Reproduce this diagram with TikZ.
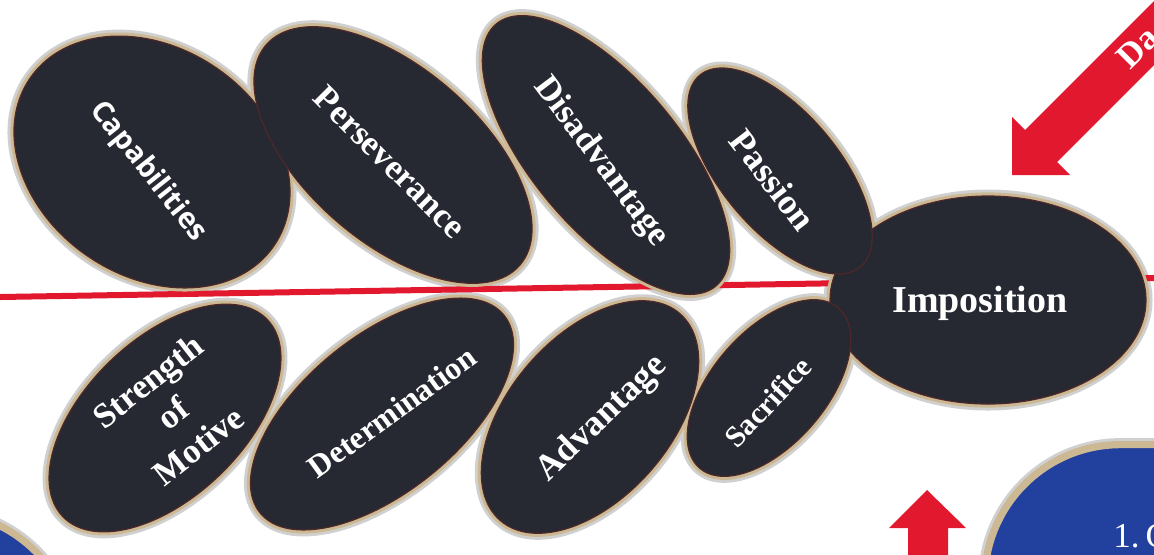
\documentclass[tikz,border=0pt]{standalone}
\usepackage{fontspec}
\setmainfont{Liberation Serif}
\newfontfamily\capsans{Open Sans}
\usetikzlibrary{shapes.geometric}
\definecolor{pebble}{RGB}{38,40,50}
\definecolor{sand}{RGB}{204,184,146}
\definecolor{haze}{RGB}{208,208,208}
\definecolor{seam}{RGB}{78,40,40}
\definecolor{alarm}{RGB}{226,24,46}
\definecolor{royal}{RGB}{34,64,158}

\begin{document}
\begin{tikzpicture}[x=0.5pt, y=-0.5pt,
  halo/.style={ellipse, draw=haze, line width=6.5pt, inner sep=0pt},
  rim/.style={ellipse, draw=sand, line width=3.6pt, inner sep=0pt},
  stone/.style={ellipse, fill=pebble, draw=seam, line width=0.6pt, inner sep=0pt},
  word/.style={text=white, inner sep=0pt, align=center,
               font=\bfseries\fontsize{17.5}{20.5}\selectfont},
  panel/.style={rectangle, fill=royal, draw=sand, line width=3.6pt,
                rounded corners=68pt, minimum width=200pt, minimum height=150pt,
                preaction={draw=haze, line width=6.5pt}},
  axisline/.style={draw=alarm, line width=3pt},
  blockarrow/.style={fill=alarm}
]
\useasboundingbox (0,0) rectangle (1154,554);
\clip (0,0) rectangle (1154,554);

\node[panel, anchor=north east] (leftpanel)  at (79,508)  {};
\node[panel, anchor=north west] (rightpanel) at (981,441) {};
\node[word, font=\fontsize{17.5}{20.5}\selectfont, anchor=base west] (stepone) at (1113,547) {\spaceskip=1.5pt\relax 1. C};

\foreach \n/\x/\y/\w/\h/\a in {impo/988/300/158/104/0, cap/152/162/148/114/-34.5,
    pers/393/155/168/87/-41, disadv/606/155/171/74/-50, pass/780/171/125/59/-50,
    str/165/418/142/79/44, det/382/414/157/78/39, adv/590/417/137/81/49,
    sac/769/388/106/57/49}
  \node[halo, minimum width=\w*1pt, minimum height=\h*1pt, rotate=\a] (\n-halo) at (\x,\y) {};

\coordinate (axisL) at (0,297);
\coordinate (axisR) at (1154,278);
\draw[axisline] (axisL) -- (axisR);

\foreach \n/\x/\y/\w/\h/\a in {impo/988/300/158/104/0, cap/152/162/148/114/-34.5,
    pers/393/155/168/87/-41, disadv/606/155/171/74/-50, pass/780/171/125/59/-50,
    str/165/418/142/79/44, det/382/414/157/78/39, adv/590/417/137/81/49,
    sac/769/388/106/57/49}
  \node[rim, minimum width=\w*1pt, minimum height=\h*1pt, rotate=\a] (\n-rim) at (\x,\y) {};

\foreach \n/\x/\y/\w/\h/\a in {impo/988/300/158/104/0, cap/152/162/148/114/-34.5,
    pers/393/155/168/87/-41, disadv/606/155/171/74/-50, pass/780/171/125/59/-50,
    str/165/418/142/79/44, det/382/414/157/78/39, adv/590/417/137/81/49,
    sac/769/388/106/57/49}
  \node[stone, minimum width=\w*1pt, minimum height=\h*1pt, rotate=\a] (\n) at (\x,\y) {};

\node[word, font=\capsans\bfseries\fontsize{14.5}{17}\selectfont, rotate=-51.5] (capword) at (148,172) {Capabilities};
\node[word, rotate=-45] (persword) at (390,162) {Perseverance};
\node[word, rotate=-53] (disword)  at (601,162) {Disadvantage};
\node[word, font=\bfseries\fontsize{18}{21}\selectfont, rotate=-52.5] (password) at (773,180) {Passion};
\node[word, font=\bfseries\fontsize{19}{22}\selectfont] (impword) at (980,303) {Imposition};
\node[word, rotate=38] (strword) at (173,413) {Strength\\of\\Motive};
\node[word, font=\bfseries\fontsize{16}{19}\selectfont, rotate=36] (detword) at (392,412) {Determination};
\node[word, font=\bfseries\fontsize{18}{21}\selectfont, rotate=44] (advword) at (602,419) {Advantage};
\node[word, font=\bfseries\fontsize{15}{18}\selectfont, rotate=47] (sacword) at (768,402) {Sacrifice};

\coordinate (datatip) at (1012,175);
\fill[blockarrow] (datatip) -- (1012,117) -- (1025,130) -- (1240,-85)
  -- (1272,-53) -- (1057,162) -- (1070,175) -- cycle;
\node[word, rotate=45, anchor=base west] (dataword) at (1130,71) {Da};

\coordinate (uptip) at (927,490);
\fill[blockarrow] (uptip) -- (966,528) -- (948,528) -- (948,600)
  -- (908,600) -- (908,528) -- (889,528) -- cycle;
\end{tikzpicture}
\end{document}
